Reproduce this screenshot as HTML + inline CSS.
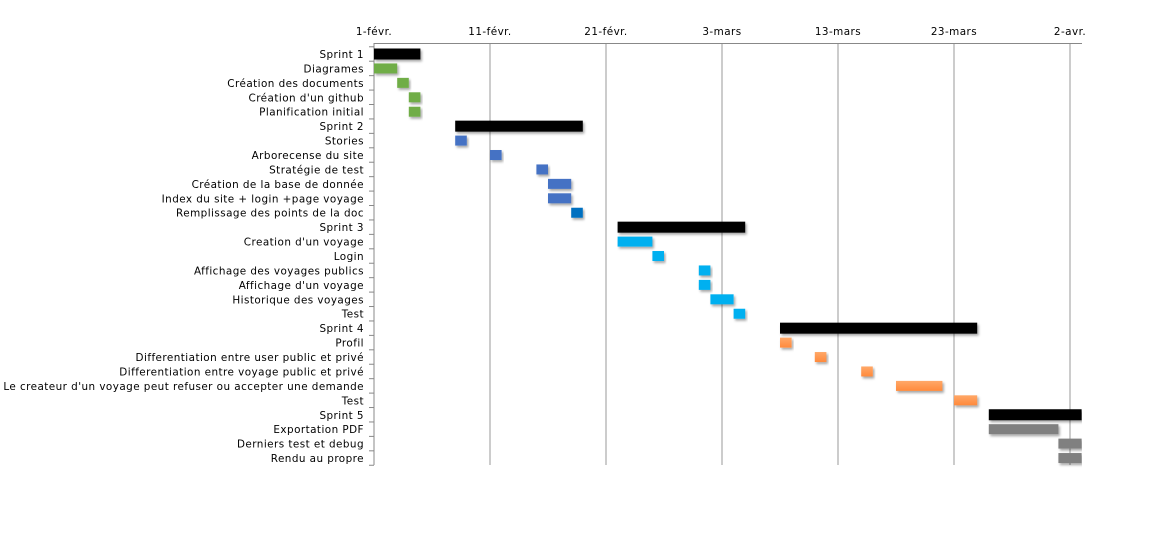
<!DOCTYPE html>
<html><head><meta charset="utf-8"><style>
body{margin:0;background:#fff;width:1157px;height:529px;overflow:hidden;font-family:"DejaVu Sans",sans-serif}
svg text{font-family:"DejaVu Sans","Liberation Sans",sans-serif;font-size:10.4px;letter-spacing:0.45px;fill:#000}
</style></head><body>
<svg id="chart" width="1157" height="529" xmlns="http://www.w3.org/2000/svg">
<defs>
<filter id="sh" x="-10%" y="-30%" width="130%" height="180%"><feDropShadow dx="1.5" dy="2" stdDeviation="1.2" flood-color="#000" flood-opacity="0.35"/></filter>
<linearGradient id="og" x1="0" y1="0" x2="0" y2="1"><stop offset="0" stop-color="#ffa868"/><stop offset="1" stop-color="#ff8a3c"/></linearGradient>
<clipPath id="clip"><rect x="374" y="40" width="708" height="430"/></clipPath>
</defs>
<g id="grid"></g><g id="bars" clip-path="url(#clip)"></g><g id="labels"></g>
</svg>
<script>
const tasks=["Sprint 1","Diagrames","Création des documents","Création d'un github","Planification initial","Sprint 2","Stories","Arborecense du site","Stratégie de test","Création de la base de donnée","Index du site + login +page voyage ","Remplissage des points de la doc","Sprint 3","Creation d'un voyage","Login ","Affichage des voyages publics","Affichage d'un voyage","Historique des voyages","Test","Sprint 4","Profil","Differentiation entre user public et privé","Differentiation entre voyage public et privé","Le createur d'un voyage peut refuser ou accepter une demande","Test","Sprint 5","Exportation PDF","Derniers test et debug","Rendu au propre"];
const starts=[0,0,2,3,3,7,7,10,14,15,15,17,21,21,24,28,28,29,31,35,35,38,42,45,50,53,53,59,59];
const durations=[4,2,1,1,1,11,1,1,1,2,2,1,11,3,1,1,1,2,1,17,1,1,1,4,2,8,6,2,2];
const groups=["k","g","g","g","g","k","b","b","b","b","b","d","k","c","c","c","c","c","c","k","o","o","o","o","o","k","y","y","y"];
const tickLabels=["1-févr.","11-févr.","21-févr.","3-mars","13-mars","23-mars","2-avr."];
const tickDays=[0,10,20,30,40,50,60];
const colors={k:"#000",g:"#70ad47",b:"#4472c4",d:"#0070c0",c:"#00b0f0",o:"url(#og)",y:"#808080"};
const NS="http://www.w3.org/2000/svg";
const x0=374,pxDay=11.6,y0=54,rowH=14.43;
const xs=d=>x0+d*pxDay, ys=i=>y0+i*rowH;
function mk(tag,attrs,parent){const e=document.createElementNS(NS,tag);for(const k in attrs)e.setAttribute(k,attrs[k]);parent.appendChild(e);return e;}
const grid=document.getElementById('grid'),bars=document.getElementById('bars'),labels=document.getElementById('labels');
tickDays.forEach((d,i)=>{
  const l=mk('line',{x1:xs(d),x2:xs(d),y1:43,y2:465,stroke:i==0?'#888':'#999','stroke-width':1},grid);
  
  
  const t=mk('text',{x:xs(d),y:35,'text-anchor':'middle'},labels);
  t.textContent=tickLabels[i];
  
  
});
const ax=mk('line',{x1:x0,x2:1082,y1:43.5,y2:43.5,stroke:'#888'},grid);


for(let i=0;i<=tasks.length;i++){
  const tk=mk('line',{x1:x0-5,x2:x0,y1:ys(i)-rowH/2,y2:ys(i)-rowH/2,stroke:'#888'},grid);
  
  
}
tasks.forEach((n,i)=>{
  const sprint=groups[i]=="k";
  const h=sprint?11:10;
  const r=mk('rect',{x:xs(starts[i]),y:ys(i)-h/2,width:durations[i]*pxDay,height:h,fill:colors[groups[i]],filter:'url(#sh)'},bars);
  
  
  const t=mk('text',{x:364,y:ys(i)+4,'text-anchor':'end'},labels);
  t.textContent=n;
  
  
});
</script>
</body></html>
